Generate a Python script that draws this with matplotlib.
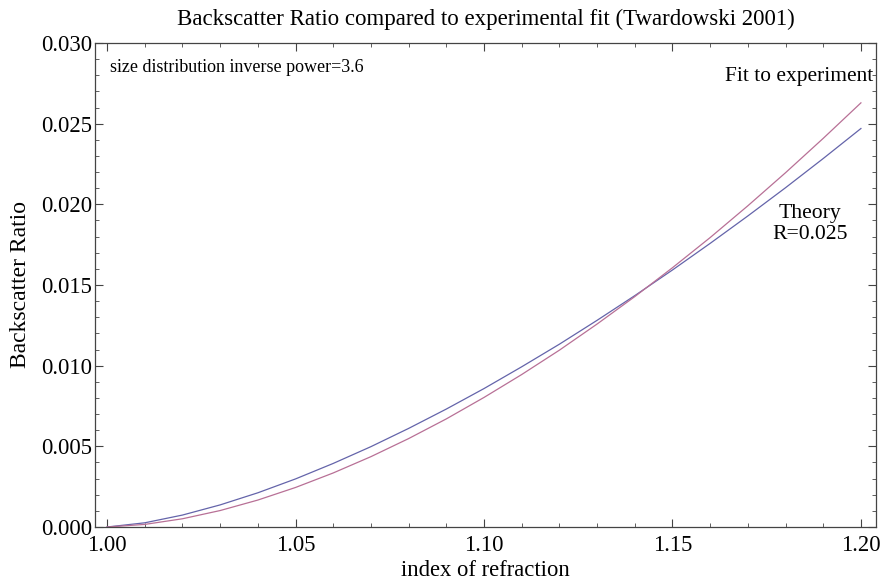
import matplotlib
matplotlib.use("Agg")
import matplotlib.pyplot as plt
from matplotlib.ticker import MultipleLocator, FormatStrFormatter

# index of refraction samples
n = [1.00, 1.01, 1.02, 1.03, 1.04, 1.05, 1.06, 1.07, 1.08, 1.09, 1.10,
     1.11, 1.12, 1.13, 1.14, 1.15, 1.16, 1.17, 1.18, 1.19, 1.20]

# theory curve (R=0.025)
theory = [0.0, 0.00026, 0.00074, 0.00137, 0.00212, 0.00298, 0.00394,
          0.00498, 0.00611, 0.00731, 0.00858, 0.00993, 0.01133, 0.01281,
          0.01434, 0.01593, 0.01758, 0.01928, 0.02103, 0.02284, 0.02470]

# fit to experiment (Twardowski 2001)
fit = [0.0, 0.00016, 0.00051, 0.00102, 0.00167, 0.00245, 0.00335,
       0.00436, 0.00548, 0.00670, 0.00803, 0.00945, 0.01096, 0.01258,
       0.01428, 0.01607, 0.01794, 0.01991, 0.02196, 0.02409, 0.02629]

plt.rcParams['font.family'] = ['Liberation Serif', 'DejaVu Serif']

fig = plt.figure(figsize=(8.81, 5.85), dpi=100)
ax = fig.add_axes([95/881, 1-527/585, (876-95)/881, (527-43)/585])

ax.plot(n, theory, color='#6464aa', lw=0.9)
ax.plot(n, fit, color='#b87096', lw=0.9)

ax.set_xlim(0.9968, 1.204)
ax.set_ylim(0, 0.030)

ax.xaxis.set_major_locator(MultipleLocator(0.05))
ax.xaxis.set_minor_locator(MultipleLocator(0.01))
ax.yaxis.set_major_locator(MultipleLocator(0.005))
ax.yaxis.set_minor_locator(MultipleLocator(0.001))
ax.xaxis.set_major_formatter(FormatStrFormatter('%.2f'))
ax.yaxis.set_major_formatter(FormatStrFormatter('%.3f'))

ax.tick_params(which='both', direction='in', top=True, right=True,
               labelsize=16.3, color='#444444')
ax.tick_params(axis='x', which='both', pad=6)
ax.tick_params(axis='y', which='both', pad=2)
ax.tick_params(which='major', length=6, width=0.8)
ax.tick_params(which='minor', length=3, width=0.6)
for s in ax.spines.values():
    s.set_color('#444444')
    s.set_linewidth(0.9)

ax.set_title('Backscatter Ratio compared to experimental fit (Twardowski 2001)',
             fontsize=16.5, pad=13)
ax.set_xlabel('index of refraction', fontsize=16.3, labelpad=3)
ax.set_ylabel('Backscatter Ratio', fontsize=17, labelpad=7)

ax.text(0.019, 0.95, 'size distribution inverse power=3.6',
        transform=ax.transAxes, fontsize=13, va='center', ha='left')
ax.text(0.997, 0.93, 'Fit to experiment', transform=ax.transAxes,
        fontsize=15.4, va='center', ha='right')
ax.text(0.915, 0.626, 'Theory\nR=0.025', transform=ax.transAxes,
        fontsize=15.6, va='center', ha='center', linespacing=1.15)

fig.savefig('out.png', dpi=100)
